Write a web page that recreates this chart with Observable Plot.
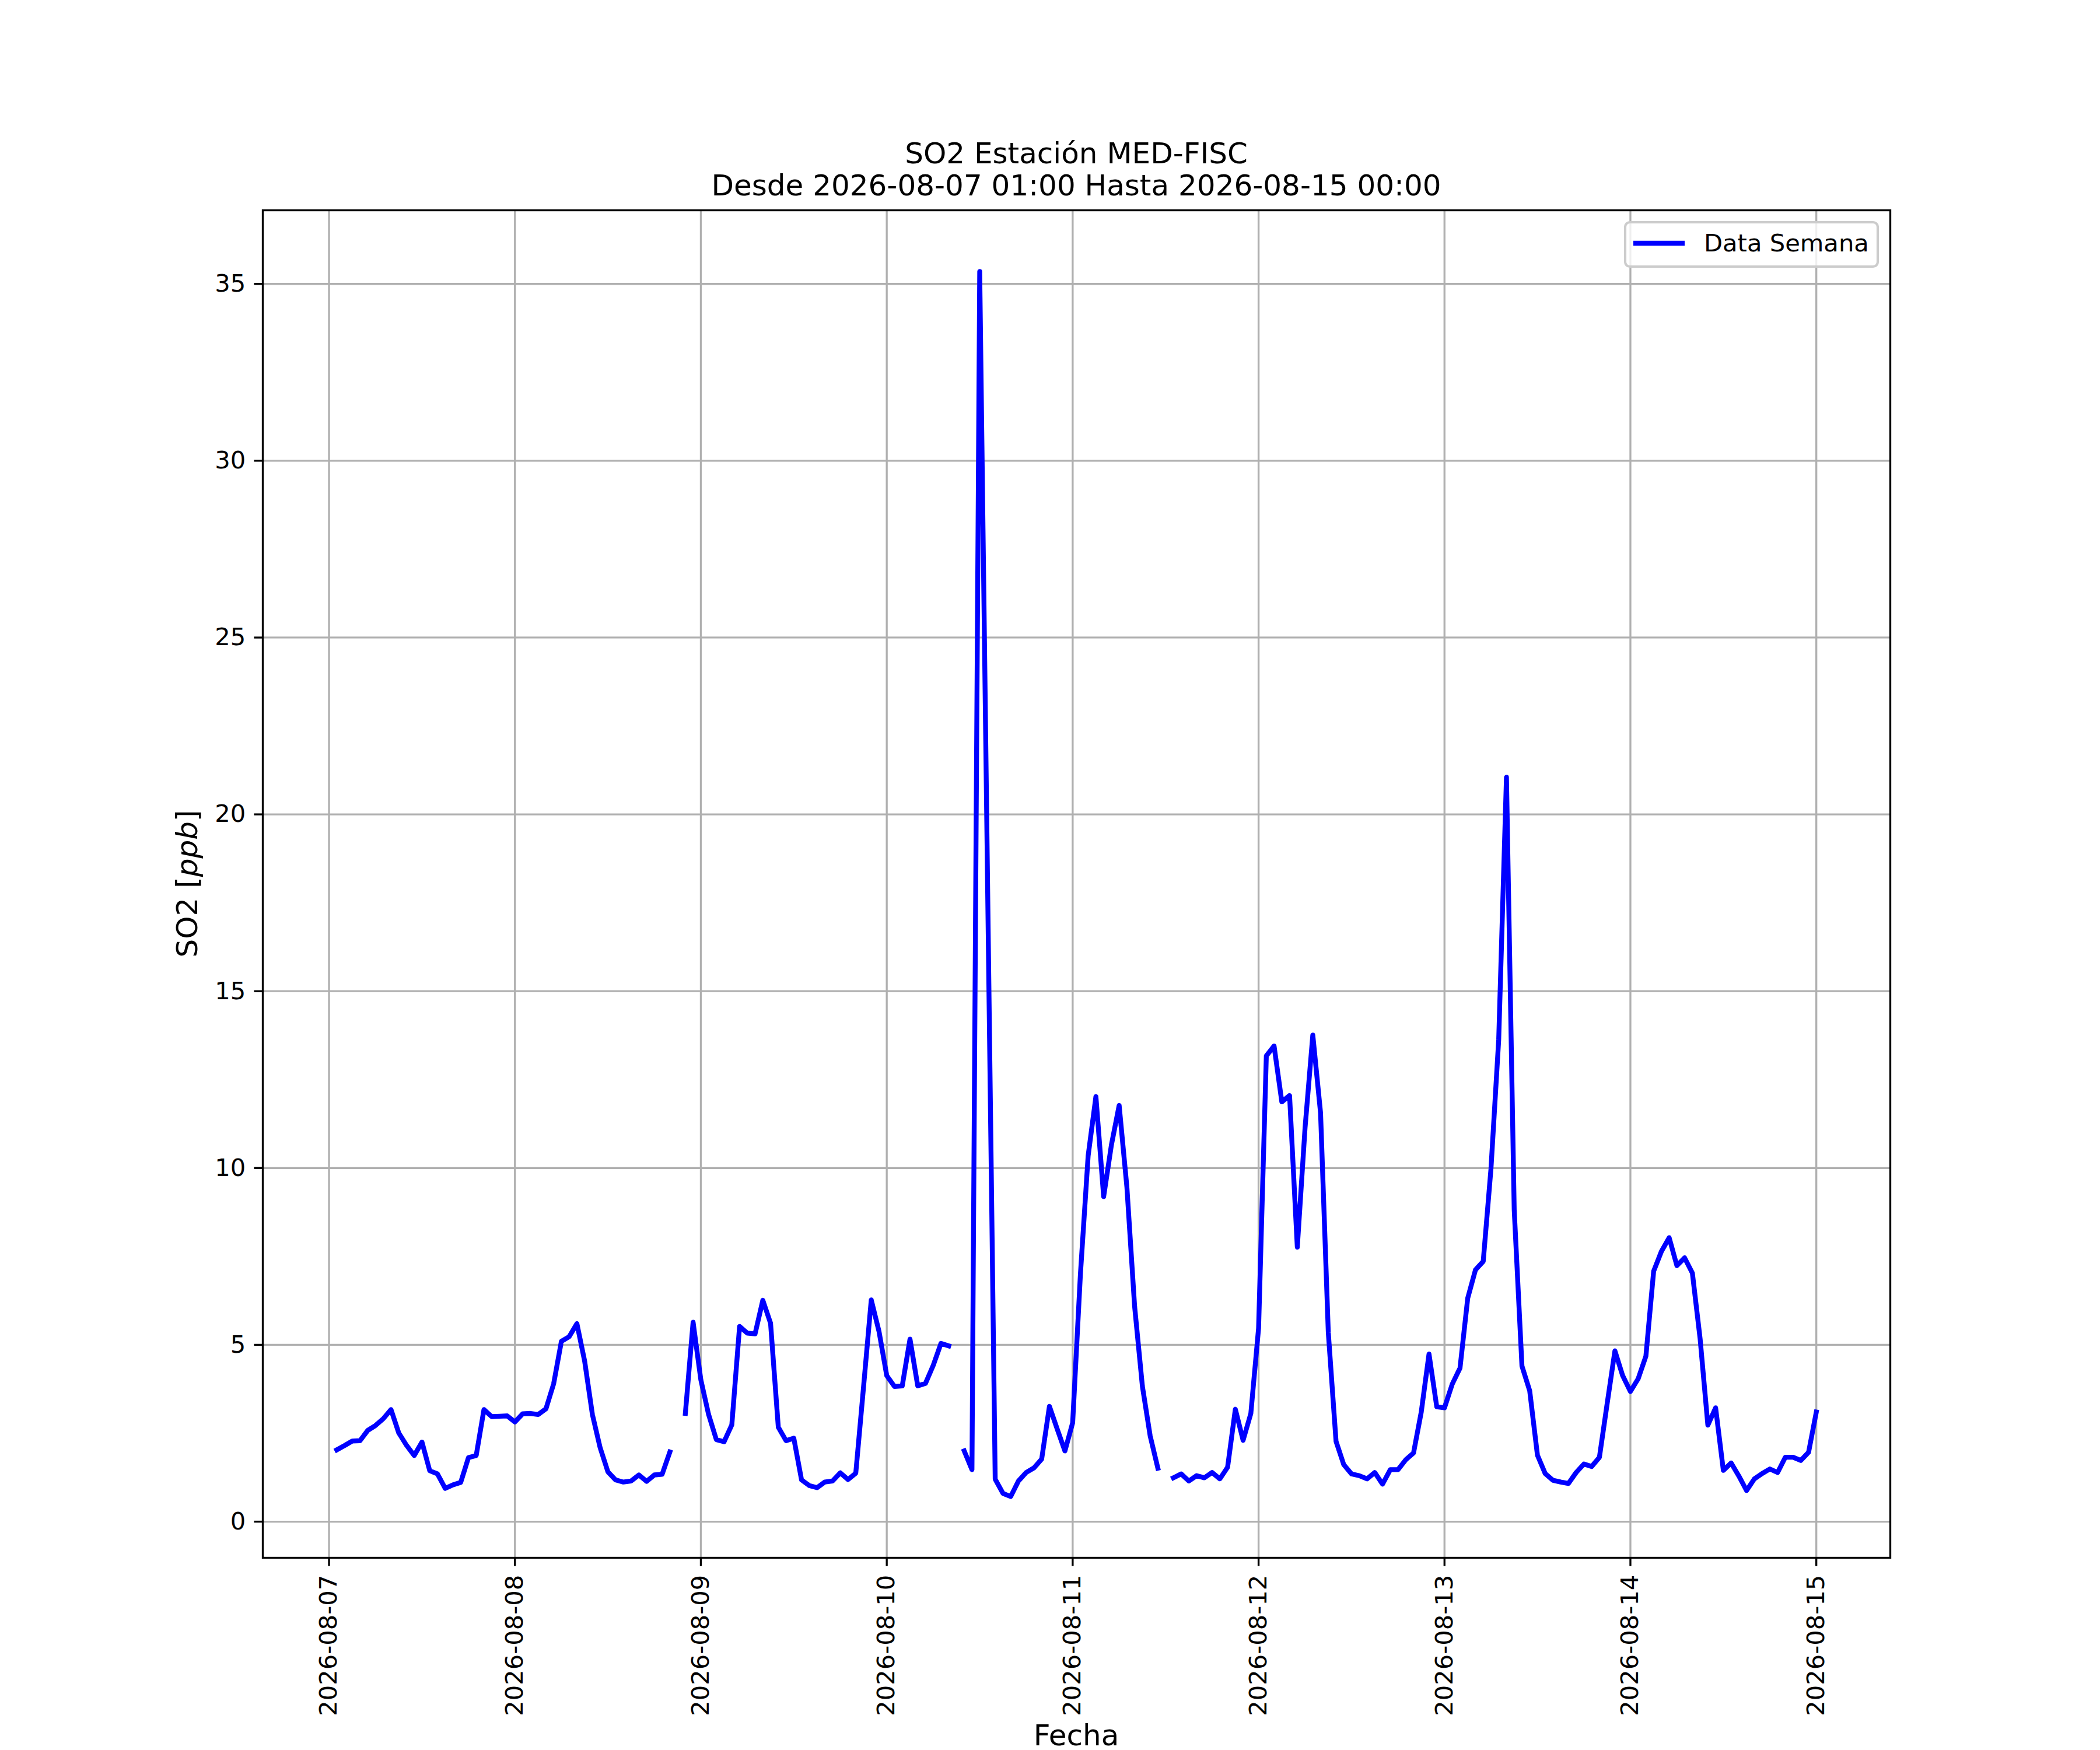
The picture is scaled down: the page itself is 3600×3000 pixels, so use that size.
<!DOCTYPE html>
<html>
<head>
<meta charset="utf-8">
<script src="https://cdn.jsdelivr.net/npm/d3@7"></script>
<script src="https://cdn.jsdelivr.net/npm/@observablehq/plot@0.6"></script>
<style>
  html, body { margin: 0; padding: 0; background: white; }
  #chart svg { display: block; }
</style>
</head>
<body>
<div id="chart"></div>
<script>
// ---- data: hourly SO2 (ppb), first value at 2026-08-07 01:00 ----
const startTime = "2026-08-07T01:00:00Z";
const so2_0807 = [2.03, 2.15, 2.28, 2.29, 2.58, 2.72, 2.91, 3.17, 2.51, 2.16, 1.87, 2.25, 1.44, 1.35, 0.94, 1.04, 1.11, 1.81, 1.87, 3.17, 2.97, 2.98, 2.99, 2.82];
const so2_0808 = [3.05, 3.06, 3.03, 3.19, 3.90, 5.10, 5.23, 5.60, 4.54, 3.03, 2.09, 1.41, 1.18, 1.12, 1.15, 1.32, 1.14, 1.32, 1.34, 1.97, NaN, 3.06, 5.64, 4.01];
const so2_0809 = [3.03, 2.32, 2.26, 2.74, 5.52, 5.33, 5.31, 6.26, 5.61, 2.67, 2.29, 2.36, 1.18, 1.02, 0.96, 1.12, 1.15, 1.38, 1.19, 1.37, 3.80, 6.27, 5.38, 4.13];
const so2_0810 = [3.82, 3.84, 5.16, 3.84, 3.91, 4.42, 5.04, 4.97, NaN, 2.00, 1.47, 35.35, 18.3, 1.20, 0.80, 0.71, 1.15, 1.39, 1.52, 1.77, 3.26, 2.62, 2.00, 2.80];
const so2_0811 = [7.00, 10.35, 12.02, 9.19, 10.65, 11.77, 9.46, 6.08, 3.83, 2.43, 1.51, NaN, 1.24, 1.35, 1.15, 1.30, 1.24, 1.39, 1.21, 1.54, 3.18, 2.30, 3.06, 5.47];
const so2_0812 = [13.17, 13.45, 11.87, 12.05, 7.76, 11.14, 13.76, 11.56, 5.35, 2.27, 1.61, 1.35, 1.30, 1.21, 1.39, 1.06, 1.47, 1.47, 1.75, 1.94, 3.10, 4.74, 3.25, 3.22];
const so2_0813 = [3.89, 4.34, 6.32, 7.12, 7.36, 9.98, 13.64, 21.05, 8.82, 4.40, 3.70, 1.88, 1.36, 1.17, 1.12, 1.08, 1.39, 1.63, 1.56, 1.82, 3.34, 4.83, 4.13, 3.68];
const so2_0814 = [4.04, 4.68, 7.08, 7.64, 8.03, 7.24, 7.46, 7.03, 5.17, 2.73, 3.22, 1.45, 1.66, 1.29, 0.88, 1.21, 1.36, 1.49, 1.39, 1.82, 1.82, 1.73, 1.96, 3.10];

const xTickDates = ["2026-08-07", "2026-08-08", "2026-08-09", "2026-08-10", "2026-08-11", "2026-08-12", "2026-08-13", "2026-08-14", "2026-08-15"];
const yTicks = [0, 5, 10, 15, 20, 25, 30, 35];

const titleLine1 = "SO2 Estación MED-FISC";
const titleLine2 = "Desde 2026-08-07 01:00 Hasta 2026-08-15 00:00";
const xLabel = "Fecha";
const legendLabel = "Data Semana";

// ---- build table ----
const allValues = [].concat(so2_0807, so2_0808, so2_0809, so2_0810, so2_0811, so2_0812, so2_0813, so2_0814);
const t0 = new Date(startTime);
const data = allValues.map((v, i) => ({t: d3.utcHour.offset(t0, i), v}));
const xTicks = xTickDates.map(s => new Date(s + "T00:00:00Z"));

// matplotlib-style 5% margins
const tExt = d3.extent(data, d => d.t);
const tPad = (tExt[1] - tExt[0]) * 0.05;
const xDomain = [new Date(+tExt[0] - tPad), new Date(+tExt[1] + tPad)];
const vExt = d3.extent(data.filter(d => Number.isFinite(d.v)), d => d.v);
const vPad = (vExt[1] - vExt[0]) * 0.05;
const yDomain = [vExt[0] - vPad, vExt[1] + vPad];

const W = 3600, H = 3000;
const mL = 450, mR = 360, mT = 360, mB = 330;
const pt = 300 / 72; // 300 dpi
const gridStyle = {stroke: "#b0b0b0", strokeOpacity: 1, strokeWidth: 0.8 * pt};

const chart = Plot.plot({
  width: W, height: H,
  marginLeft: mL, marginRight: mR, marginTop: mT, marginBottom: mB,
  style: {fontFamily: "DejaVu Sans", fontSize: (10 * pt) + "px", background: "white", color: "black", overflow: "visible"},
  x: {type: "utc", domain: xDomain},
  y: {domain: yDomain},
  marks: [
    Plot.gridX(xTicks, gridStyle),
    Plot.gridY(yTicks, gridStyle),
    Plot.lineY(data, {x: "t", y: "v", stroke: "blue", strokeWidth: 2 * pt, strokeLinejoin: "round", strokeLinecap: "square"}),
    Plot.axisX(xTicks, {
      tickFormat: d3.utcFormat("%Y-%m-%d"), tickRotate: -90, textAnchor: "end", lineAnchor: "middle",
      tickSize: 3.5 * pt, tickPadding: 3.5 * pt, strokeWidth: 0.8 * pt, fontSize: 10 * pt, label: null, fill: "black"
    }),
    Plot.axisY(yTicks, {
      tickFormat: d => String(d), tickSize: 3.5 * pt, tickPadding: 3.5 * pt, strokeWidth: 0.8 * pt,
      fontSize: 10 * pt, label: null, fill: "black"
    }),
    Plot.frame({stroke: "black", strokeWidth: 0.8 * pt})
  ]
});

document.getElementById("chart").appendChild(chart);

// ---- titles, axis labels and legend inside the same SVG ----
const svg = d3.select(chart);
const cx = mL + (W - mL - mR) / 2;
const fs12 = 12 * pt, fs10 = 10 * pt;

svg.append("text").attr("x", cx).attr("y", 280).attr("text-anchor", "middle")
  .attr("font-family", "DejaVu Sans").attr("font-size", fs12).attr("fill", "black").text(titleLine1);
svg.append("text").attr("x", cx).attr("y", 335).attr("text-anchor", "middle")
  .attr("font-family", "DejaVu Sans").attr("font-size", fs12).attr("fill", "black").text(titleLine2);

svg.append("text").attr("x", cx).attr("y", 2992).attr("text-anchor", "middle")
  .attr("font-family", "DejaVu Sans").attr("font-size", fs12).attr("fill", "black").text(xLabel);

const yl = svg.append("text").attr("transform", `translate(338,${mT + (H - mT - mB) / 2}) rotate(-90)`)
  .attr("text-anchor", "middle").attr("font-family", "DejaVu Sans").attr("font-size", fs12).attr("fill", "black");
yl.append("tspan").text("SO2 [");
yl.append("tspan").attr("font-style", "italic").text("ppb");
yl.append("tspan").text("]");

// legend (upper right)
const lg = svg.append("g");
lg.append("rect").attr("x", 2786).attr("y", 381).attr("width", 433).attr("height", 76).attr("rx", 8)
  .attr("fill", "white").attr("fill-opacity", 0.8).attr("stroke", "#cccccc").attr("stroke-width", 1 * pt);
lg.append("line").attr("x1", 2800).attr("x2", 2888).attr("y1", 417).attr("y2", 417)
  .attr("stroke", "blue").attr("stroke-width", 2 * pt);
lg.append("text").attr("x", 2921).attr("y", 431).attr("text-anchor", "start")
  .attr("font-family", "DejaVu Sans").attr("font-size", fs10)
  .attr("fill", "black").text(legendLabel);
</script>
</body>
</html>
